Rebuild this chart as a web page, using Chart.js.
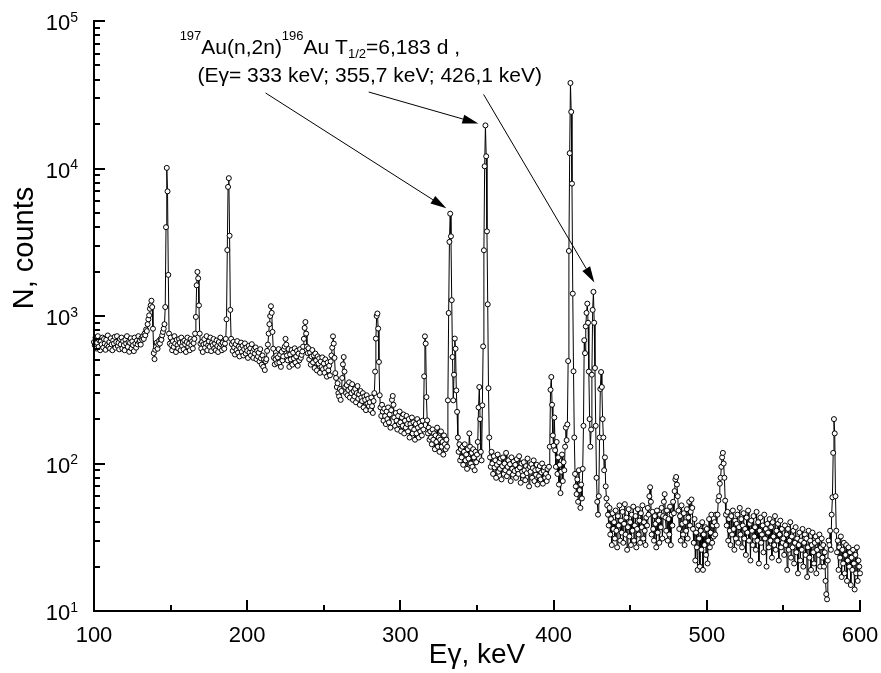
<!DOCTYPE html>
<html>
<head>
<meta charset="utf-8">
<title>197Au(n,2n)196Au gamma spectrum</title>
<script src="https://cdn.jsdelivr.net/npm/chart.js"></script>
<style>
  html, body { margin: 0; padding: 0; background: #fff; }
  #chart { display: block; }
</style>
</head>
<body>
<canvas id="chart" width="881" height="673"></canvas>
<script>
// gamma spectrum, counts per 0.5 keV channel
const E_STEP = 0.5;

const seg100 = [
  666, 634, 714, 602, 658, 730, 618, 682, 586, 674,
  642, 714, 610, 698, 650, 590, 690, 634, 738, 618,
  666, 602, 706, 642, 586, 682, 650, 722, 610, 666,
  730, 626, 658, 594, 698, 642, 714, 602, 674, 634,
  586, 690, 650, 730, 618, 666, 572, 658, 706, 602,
  674, 634, 578, 714, 650, 610, 682, 642, 730, 666,
  680, 640, 710, 690, 730, 700, 760, 740, 810, 790,
  880, 950, 1010, 1120, 1180, 1270, 1150, 820, 560, 510,
  590, 620, 660, 600, 640, 680, 650, 700, 690, 740,
  780, 820, 880, 1150, 4000, 10100, 7000, 1900, 760, 650
];
const seg150 = [
  714, 634, 586, 674, 618, 730, 650, 570, 690, 634,
  602, 698, 658, 586, 714, 626, 666, 594, 682, 642,
  570, 666, 714, 618, 650, 586, 698, 634, 674, 602,
  655, 700, 760, 985, 1615, 1990, 1800, 1180, 760, 650,
  602, 666, 570, 642, 698, 610, 650, 730, 586, 634,
  674, 618, 714, 578, 658, 634, 698, 602, 650, 586,
  682, 626, 570, 666, 610, 714, 642, 586, 658, 618,
  600, 650, 700, 950, 2800, 7500, 8600, 3500, 1100, 700,
  644, 580, 668, 612, 548, 644, 588, 676, 564, 620,
  532, 604, 660, 572, 628, 540, 596, 652, 556, 612
];
const seg200 = [
  580, 520, 628, 566, 604, 540, 644, 572, 520, 596,
  556, 612, 510, 580, 532, 564, 492, 596, 516, 468,
  540, 452, 508, 430, 494, 510, 580, 640, 760, 880,
  1000, 1165, 1050, 780, 600, 520, 470, 510, 540, 480,
  524, 596, 484, 548, 452, 572, 500, 532, 596, 620,
  700, 640, 540, 500, 596, 452, 548, 508, 588, 468,
  564, 516, 604, 484, 532, 580, 460, 556, 500, 596,
  520, 545, 575, 620, 700, 830, 910, 760, 620, 560,
  604, 508, 564, 468, 532, 588, 484, 540, 444, 556,
  500, 428, 532, 476, 516, 412, 492, 452, 524, 436
];
const seg250 = [
  476, 412, 508, 444, 388, 484, 428, 460, 396, 492,
  540, 610, 728, 650, 520, 410, 380, 330, 350, 300,
  285, 320, 270, 310, 380, 470, 527, 420, 330, 300,
  340, 290, 315, 355, 280, 325, 300, 345, 270, 310,
  285, 320, 260, 300, 335, 275, 295, 250, 310, 280,
  265, 300, 240, 285, 270, 230, 290, 255, 275, 245,
  260, 230, 280, 245, 220, 265, 300, 420, 703, 1000,
  1040, 822, 488, 290, 240, 210, 250, 225, 195, 235,
  210, 185, 225, 200, 240, 190, 215, 175, 230, 270,
  287, 250, 205, 180, 220, 195, 170, 210, 185, 225
];
const seg300 = [
  190, 165, 205, 180, 215, 160, 195, 175, 210, 185,
  165, 200, 150, 185, 175, 205, 160, 190, 170, 145,
  185, 160, 200, 175, 150, 190, 165, 180, 155, 195,
  170, 390, 728, 650, 282, 196, 160, 175, 145, 165,
  150, 135, 170, 145, 160, 125, 155, 140, 175, 130,
  150, 120, 145, 165, 130, 140, 115, 155, 135, 125,
  145, 130, 268, 1048, 3180, 4940, 3470, 1280, 527, 268,
  400, 703, 600, 313, 224, 150, 120, 135, 105, 125,
  110, 130, 98, 120, 135, 105, 115, 92, 125, 108,
  160, 130, 100, 118, 95, 125, 110, 90, 120, 102
];
const seg350 = [
  115, 140, 240, 330, 200, 120, 105, 248, 622, 2790,
  10350, 19600, 12100, 3750, 1200, 324, 150, 110, 95, 120,
  100, 85, 112, 94, 105, 80, 98, 115, 88, 102,
  92, 108, 78, 96, 110, 85, 100, 90, 118, 82,
  95, 105, 87, 99, 76, 110, 92, 84, 103, 89,
  98, 80, 107, 91, 85, 112, 94, 74, 100, 88,
  83, 102, 90, 77, 96, 86, 108, 92, 70, 95,
  88, 99, 80, 93, 105, 76, 90, 84, 98, 72,
  91, 82, 96, 78, 87, 100, 73, 89, 94, 80,
  85, 76, 92, 81, 95, 130, 316, 386, 250, 155
];
const seg400 = [
  132, 205, 123, 95, 140, 85, 110, 72, 98, 63,
  88, 115, 76, 102, 90, 130, 175, 144, 184, 495,
  2760, 12700, 38000, 24200, 7900, 1418, 422, 150, 85, 70,
  62, 78, 55, 90, 66, 50, 72, 58, 92, 180,
  685, 560, 850, 1050, 1213, 900, 420, 200, 130, 170,
  400, 1100, 1458, 900, 444, 180, 80, 55, 45, 60,
  150, 320, 417, 330, 200, 150, 90, 110, 70, 58,
  52, 45, 38, 50, 33, 42, 28, 46, 36, 40,
  31, 48, 35, 27, 44, 38, 52, 30, 41, 34,
  47, 29, 39, 53, 33, 43, 26, 37, 49, 32
];
const seg450 = [
  40, 28, 45, 35, 51, 30, 38, 44, 27, 36,
  49, 33, 41, 29, 46, 37, 52, 31, 40, 35,
  28, 43, 38, 50, 45, 60, 69, 55, 33, 47,
  36, 30, 44, 39, 27, 48, 34, 41, 29, 45,
  37, 50, 31, 44, 55, 62, 43, 35, 48, 30,
  42, 33, 51, 28, 45, 38, 55, 46, 65, 78,
  81, 72, 60, 48, 36, 44, 30, 52, 39, 33,
  46, 28, 40, 35, 49, 31, 43, 55, 38, 47,
  57, 50, 36, 29, 42, 22, 34, 27, 19, 38,
  31, 20, 35, 26, 40, 19, 33, 28, 37, 24
];
const seg500 = [
  36, 21, 30, 42, 27, 34, 45, 29, 38, 32,
  40, 33, 45, 38, 45, 56, 60, 73, 80, 95,
  110, 118, 100, 80, 56, 45, 38, 47, 30, 42,
  35, 28, 44, 33, 48, 36, 26, 41, 31, 39,
  45, 29, 37, 50, 33, 42, 27, 38, 46, 31,
  36, 24, 43, 34, 48, 30, 39, 22, 41, 35,
  28, 44, 32, 37, 26, 47, 30, 40, 21, 35,
  43, 29, 33, 38, 25, 45, 31, 36, 20, 39,
  34, 27, 42, 30, 37, 23, 40, 32, 28, 44,
  26, 35, 30, 39, 22, 33, 41, 27, 36, 29
];
const seg550 = [
  31, 24, 38, 28, 33, 19, 36, 26, 30, 40,
  23, 32, 27, 35, 21, 29, 37, 25, 31, 18,
  28, 34, 22, 30, 26, 36, 20, 29, 33, 24,
  31, 17, 27, 35, 23, 30, 19, 28, 34, 25,
  21, 29, 32, 18, 26, 30, 24, 33, 20, 27,
  31, 23, 28, 20, 25, 16, 13, 12, 22, 30,
  28, 35, 26, 45, 59, 118, 200, 160, 60, 35,
  25, 30, 19, 27, 23, 32, 17, 26, 21, 29,
  18, 24, 28, 16, 22, 27, 20, 25, 15, 23,
  19, 26, 21, 14, 24, 18, 27, 16, 22, 20,
  18
];

// start energy of each segment
const segments = [
  [100, seg100], [150, seg150], [200, seg200], [250, seg250], [300, seg300],
  [350, seg350], [400, seg400], [450, seg450], [500, seg500], [550, seg550]
];

const xMajor = [100, 200, 300, 400, 500, 600];
const xMinor = [150, 250, 350, 450, 550];
const yDecades = [1, 2, 3, 4, 5];

// arrows: [tailE, tailN, tipE, tipN]
const arrows = [
  [212, 32500, 330.0, 5370],
  [279.3, 33000, 350.9, 20200],
  [354.3, 31800, 426.6, 1690]
];

const FONT = "'Liberation Sans', Arial, Helvetica, sans-serif";

const points = [];
segments.forEach(([start, vals]) => {
  vals.forEach((n, i) => points.push({ x: start + i * E_STEP, y: n }));
});

function font(px) { return px + 'px ' + FONT; }

// draw a run of [text, size, baselineShift] pieces left to right
function drawRuns(ctx, x, y, runs) {
  runs.forEach(([t, size, dy]) => {
    ctx.font = font(size);
    ctx.fillText(t, x, y + dy);
    x += ctx.measureText(t).width;
  });
}

const overlay = {
  id: 'overlay',
  afterDatasetsDraw(chart) {
    const { ctx, chartArea: a } = chart;
    const xs = chart.scales.x, ys = chart.scales.y;
    ctx.save();
    ctx.strokeStyle = '#000';
    ctx.fillStyle = '#000';
    ctx.lineWidth = 2;

    // axes (left + bottom only)
    ctx.beginPath();
    ctx.moveTo(a.left, a.top - 1);
    ctx.lineTo(a.left, a.bottom);
    ctx.lineTo(a.right + 1, a.bottom);
    ctx.stroke();

    // x ticks, pointing inward
    ctx.beginPath();
    xMajor.forEach(v => {
      const px = Math.round(xs.getPixelForValue(v));
      ctx.moveTo(px, a.bottom); ctx.lineTo(px, a.bottom - 11);
    });
    xMinor.forEach(v => {
      const px = Math.round(xs.getPixelForValue(v));
      ctx.moveTo(px, a.bottom); ctx.lineTo(px, a.bottom - 6);
    });
    // y ticks
    yDecades.forEach(d => {
      const py = Math.round(ys.getPixelForValue(Math.pow(10, d)));
      ctx.moveTo(a.left, py); ctx.lineTo(a.left + 11, py);
      if (d < 5) {
        for (let m = 2; m <= 9; m++) {
          const pm = Math.round(ys.getPixelForValue(m * Math.pow(10, d)));
          ctx.moveTo(a.left, pm); ctx.lineTo(a.left + 6, pm);
        }
      }
    });
    ctx.stroke();

    // x tick labels
    ctx.font = font(22);
    ctx.textAlign = 'center';
    ctx.textBaseline = 'alphabetic';
    xMajor.forEach(v => ctx.fillText(String(v), xs.getPixelForValue(v), a.bottom + 31));

    // y tick labels 10^d
    ctx.textAlign = 'left';
    yDecades.forEach(d => {
      const py = ys.getPixelForValue(Math.pow(10, d));
      ctx.font = font(14);
      const ew = ctx.measureText(String(d)).width;
      ctx.font = font(22);
      const bw = ctx.measureText('10').width;
      const xe = a.left - 16;
      ctx.fillText('10', xe - ew - bw, py + 9);
      ctx.font = font(14);
      ctx.fillText(String(d), xe - ew, py + 0.5);
    });

    // axis titles
    ctx.font = font(28);
    ctx.textAlign = 'center';
    ctx.fillText('E\u03b3, keV', (a.left + a.right) / 2, a.bottom + 52);
    ctx.save();
    ctx.translate(33, 248);
    ctx.rotate(-Math.PI / 2);
    ctx.font = font(29);
    ctx.fillText('N, counts', 0, 0);
    ctx.restore();

    // annotation text
    ctx.textAlign = 'left';
    const tx = xs.getPixelForValue(155.9), ty = ys.getPixelForValue(60100);
    drawRuns(ctx, tx, ty, [
      ['197', 13, -14], ['Au(n,2n)', 21, 0], ['196', 13, -14], ['Au T', 21, 0],
      ['1/2', 13, 4], ['=6,183 d ,', 21, 0]
    ]);
    ctx.font = font(21);
    ctx.fillText('(E\u03b3= 333 keV; 355,7 keV; 426,1 keV)',
      xs.getPixelForValue(167.5), ys.getPixelForValue(38400));

    // arrows
    ctx.lineWidth = 1;
    arrows.forEach(([e0, n0, e1, n1]) => {
      const x0 = xs.getPixelForValue(e0), y0 = ys.getPixelForValue(n0);
      const x1 = xs.getPixelForValue(e1), y1 = ys.getPixelForValue(n1);
      const ang = Math.atan2(y1 - y0, x1 - x0);
      const L = 16, W = 4.5;
      const bx = x1 - L * Math.cos(ang), by = y1 - L * Math.sin(ang);
      ctx.beginPath();
      ctx.moveTo(x0, y0); ctx.lineTo(bx, by);
      ctx.stroke();
      ctx.beginPath();
      ctx.moveTo(x1, y1);
      ctx.lineTo(bx + W * Math.sin(ang), by - W * Math.cos(ang));
      ctx.lineTo(bx - W * Math.sin(ang), by + W * Math.cos(ang));
      ctx.closePath();
      ctx.fill();
    });
    ctx.restore();
  }
};

new Chart(document.getElementById('chart'), {
  type: 'line',
  data: {
    datasets: [{
      data: points,
      borderColor: '#000',
      borderWidth: 1,
      pointRadius: 2.5,
      pointBorderWidth: 1,
      pointBackgroundColor: '#fff',
      pointBorderColor: '#000',
      pointHoverRadius: 2.5,
      tension: 0,
      clip: false
    }]
  },
  options: {
    responsive: false,
    animation: false,
    devicePixelRatio: 1,
    parsing: false,
    normalized: true,
    events: [],
    layout: { padding: { left: 94, right: 21, top: 21, bottom: 62 } },
    scales: {
      x: { type: 'linear', min: 100, max: 600, display: false },
      y: { type: 'logarithmic', min: 10, max: 100000, display: false }
    },
    plugins: { legend: { display: false }, tooltip: { enabled: false } }
  },
  plugins: [overlay]
});
</script>
</body>
</html>
